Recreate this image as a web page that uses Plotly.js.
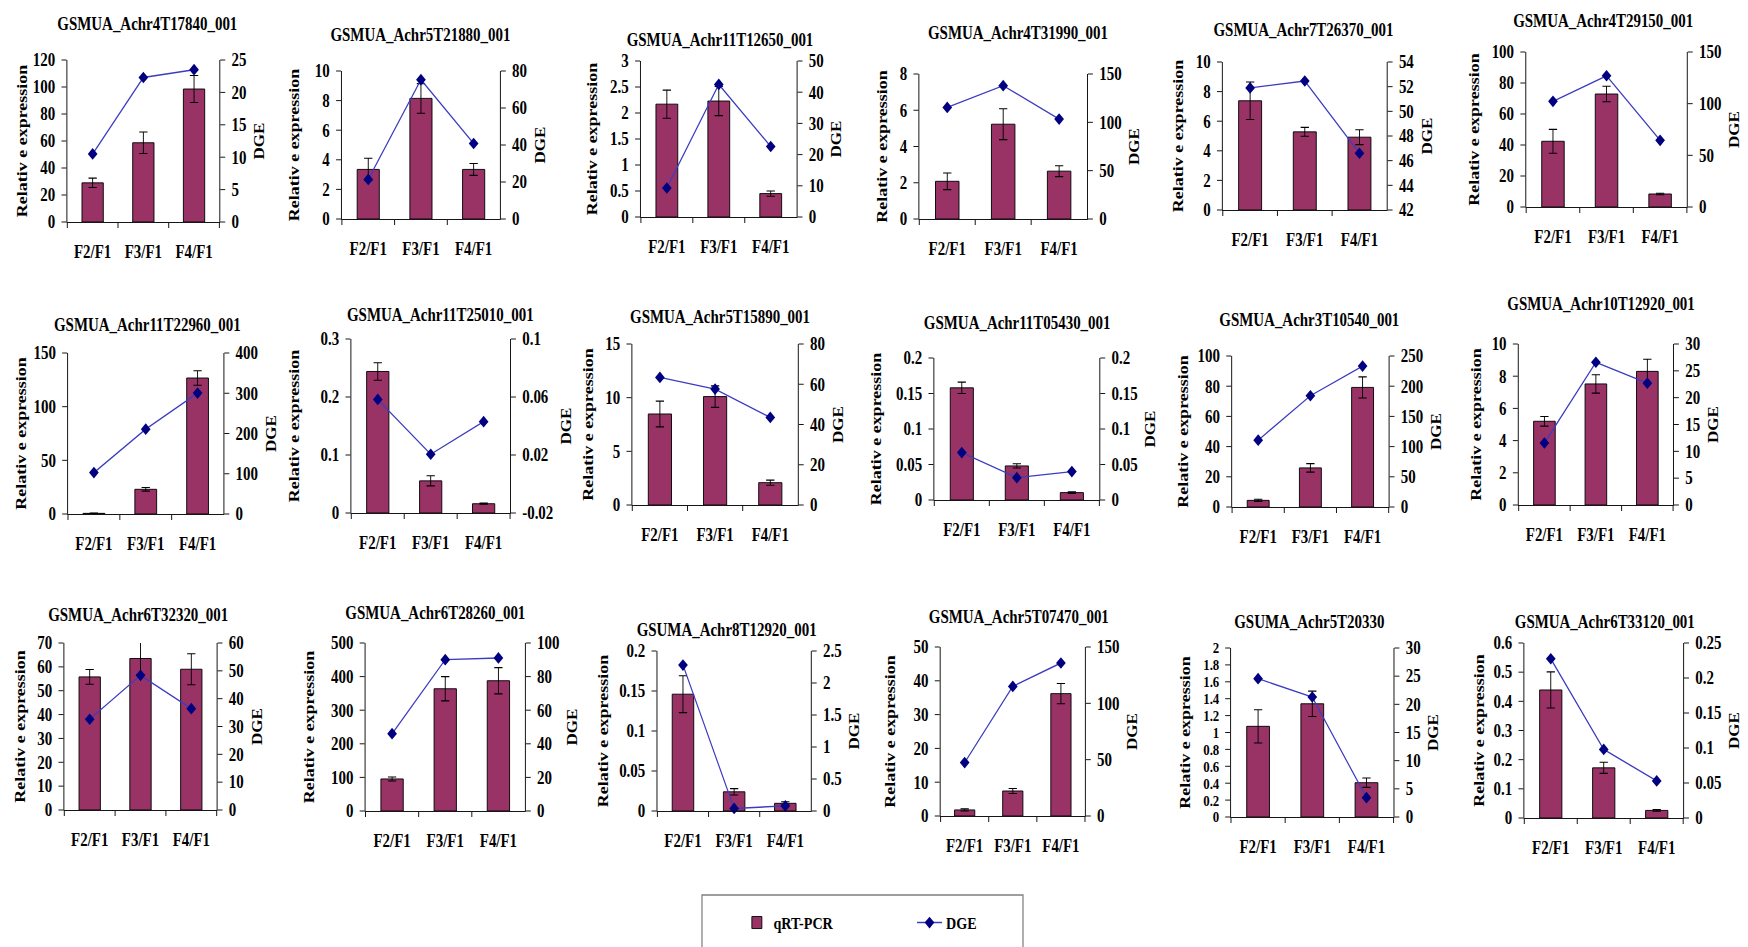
<!DOCTYPE html>
<html>
<head>
<meta charset="utf-8">
<script src="https://cdn.plot.ly/plotly-3.0.1.min.js"></script>
<style>
html,body{margin:0;padding:0;background:#fff;overflow:hidden;}
#wrap{width:1748px;height:947px;overflow:hidden;position:relative;background:#fff;}
#chart{width:2106px;height:947px;transform:scaleX(0.83);transform-origin:0 0;}
</style>
</head>
<body>
<div id="wrap"><div id="chart"></div></div>
<script>
// ---------------- DATA ----------------
const categories = ['F2/F1', 'F3/F1', 'F4/F1'];

const geneNames = [
  'GSMUA_Achr4T17840_001', 'GSMUA_Achr5T21880_001', 'GSMUA_Achr11T12650_001',
  'GSMUA_Achr4T31990_001', 'GSMUA_Achr7T26370_001', 'GSMUA_Achr4T29150_001',
  'GSMUA_Achr11T22960_001', 'GSMUA_Achr11T25010_001', 'GSMUA_Achr5T15890_001',
  'GSMUA_Achr11T05430_001', 'GSMUA_Achr3T10540_001', 'GSMUA_Achr10T12920_001',
  'GSMUA_Achr6T32320_001', 'GSMUA_Achr6T28260_001', 'GSUMA_Achr8T12920_001',
  'GSMUA_Achr5T07470_001', 'GSUMA_Achr5T20330', 'GSMUA_Achr6T33120_001'
];

// qRT-PCR relative expression (bars)
const qpcrValues = [
  [29, 58.7, 98.5],
  [3.35, 8.15, 3.35],
  [2.17, 2.23, 0.45],
  [2.08, 5.23, 2.64],
  [7.38, 5.28, 4.92],
  [42.4, 72.9, 8.4],
  [0.6, 23, 126.7],
  [0.244, 0.0554, 0.016],
  [8.48, 10.1, 2.08],
  [0.158, 0.048, 0.0104],
  [4.4, 25.9, 79.2],
  [5.2, 7.52, 8.3],
  [55.8, 63.5, 59],
  [95.4, 363.8, 387.7],
  [0.146, 0.024, 0.0096],
  [1.8, 7.4, 36.2],
  [1.073, 1.34, 0.406],
  [0.439, 0.172, 0.026]
];

// qRT-PCR error bars
const qpcrErrors = [
  [3.5, 8, 10],
  [0.75, 1.0, 0.4],
  [0.27, 0.28, 0.05],
  [0.46, 0.85, 0.3],
  [1.27, 0.3, 0.5],
  [7.7, 5, 0.5],
  [0.3, 1.7, 6.7],
  [0.015, 0.0087, 0.001],
  [1.2, 1.0, 0.24],
  [0.008, 0.003, 0.001],
  [0.7, 2.8, 7],
  [0.3, 0.57, 0.75],
  [3.1, 6.7, 6.5],
  [6, 36, 39],
  [0.023, 0.004, 0.002],
  [0.3, 0.75, 3],
  [0.197, 0.15, 0.055],
  [0.062, 0.019, 0.003]
];

// DGE values (line, right axis)
const dgeValues = [
  [10.5, 22.3, 23.5],
  [21.4, 75.3, 40.8],
  [9.3, 42.5, 22.6],
  [115.4, 137.9, 103.4],
  [51.9, 52.46, 46.6],
  [102.3, 127, 64.5],
  [102.9, 210.8, 300.4],
  [0.0583, 0.0205, 0.043],
  [63.4, 57.6, 43.5],
  [0.0668, 0.0315, 0.04],
  [110.6, 184.2, 233.4],
  [11.55, 26.6, 22.7],
  [32.6, 48.4, 36.4],
  [46, 90.1, 91.1],
  [2.28, 0.04, 0.08],
  [47.4, 115, 135.8],
  [24.56, 21.3, 3.43],
  [0.2275, 0.0979, 0.053]
];

// axis scales (tick range and step)
const leftAxisMax  = [120, 10, 3, 8, 10, 100, 150, 0.3, 15, 0.2, 100, 10, 70, 500, 0.2, 50, 2, 0.6];
const leftAxisStep = [20, 2, 0.5, 2, 2, 20, 50, 0.1, 5, 0.05, 20, 2, 10, 100, 0.05, 10, 0.2, 0.1];
const rightAxisMin  = [0, 0, 0, 0, 42, 0, 0, -0.02, 0, 0, 0, 0, 0, 0, 0, 0, 0, 0];
const rightAxisMax  = [25, 80, 50, 150, 54, 150, 400, 0.1, 80, 0.2, 250, 30, 60, 100, 2.5, 150, 30, 0.25];
const rightAxisStep = [5, 20, 10, 50, 2, 50, 100, 0.04, 20, 0.05, 50, 5, 10, 20, 0.5, 50, 5, 0.05];

const leftTitle = 'Relativ e expression';
const rightTitle = 'DGE';
const seriesNames = ['qRT-PCR', 'DGE'];

// ---------------- LAYOUT GEOMETRY (pixels in the final 1748x947 picture) ----------------
// [left, right, top, bottom, titleCenterX, titleCenterY, leftTitleStandoff]
const panelBoxes = [
  [67.3, 219.4, 60, 222, 147.6, 24, 1],
  [341.9, 500, 71, 219, 420.4, 35, 12.8],
  [640.9, 796.7, 61, 217, 720.1, 40, 10],
  [919.3, 1087.1, 74, 219, 1018, 33, 10],
  [1222.8, 1386.8, 62, 210, 1303.9, 30, 10],
  [1526.2, 1686.9, 52, 207, 1602.8, 21, 10],
  [68, 223.5, 353, 514, 147.6, 325, 3.4],
  [351.3, 510.1, 339, 513, 440.2, 315, 19.5],
  [632.3, 797.9, 344, 505, 720.1, 317, 8.8],
  [934.3, 1099.4, 358, 500, 1017.2, 323, 12.8],
  [1232.1, 1388.7, 356, 507, 1309.5, 320, 6],
  [1518.7, 1673.1, 344, 505, 1601, 304, 7.4],
  [64.3, 216.7, 643, 810, 138.3, 615, 8.8],
  [365.5, 525, 643, 811, 435.3, 613, 14.1],
  [657.4, 810.9, 651, 811, 726.9, 630, 7.4],
  [940.6, 1085, 647, 816, 1019, 617, 16.8],
  [1231, 1393.6, 648, 817, 1309.5, 622, 10],
  [1524.3, 1683.2, 643, 818, 1604.7, 622, 6]
];
// left tick label size per panel (dense 0.2-step axis needs a slightly smaller size)
const leftTickSize = [18, 18, 18, 18, 18, 18, 18, 18, 18, 18, 18, 18, 18, 18, 18, 18, 15.5, 18];

const FW = 1748, FH = 947, SX = 0.83;
const UW = Math.round(FW / SX);
const FONT = '"Liberation Serif", "Times New Roman", serif';
const BAR_COLOR = '#993366';
const LINE_COLOR = '#3c3cc0';
const MARKER_COLOR = '#000080';

function aid(n) { return n === 1 ? '' : String(n); }
function fmt(v) { return String(parseFloat(v.toFixed(6))); }
function ticks(min, max, step) {
  const vals = [], txt = [];
  const n = Math.round((max - min) / step);
  for (let k = 0; k <= n; k++) {
    const v = parseFloat((min + k * step).toFixed(6));
    vals.push(v); txt.push(fmt(v));
  }
  return {vals, txt};
}

const traces = [];
const layout = {
  width: UW,
  height: FH,
  margin: {l: 0, r: 0, t: 0, b: 0, pad: 0},
  paper_bgcolor: '#ffffff',
  plot_bgcolor: 'rgba(0,0,0,0)',
  bargap: 0.58,
  showlegend: true,
  font: {family: FONT, color: '#000', weight: 'bold'},
  annotations: [],
  shapes: [],
  legend: {
    orientation: 'h',
    x: 0.4235, xanchor: 'left',
    y: 1 - 923 / FH, yanchor: 'middle',
    font: {family: FONT, size: 17, color: '#000', weight: 'bold'},
    bgcolor: 'rgba(0,0,0,0)',
    borderwidth: 0,
    entrywidth: 163,
    entrywidthmode: 'pixels',
    traceorder: 'normal'
  }
};

const tickFont = {family: FONT, size: 18, color: '#000', weight: 'bold'};

for (let i = 0; i < geneNames.length; i++) {
  const n = i + 1;
  const yl = 2 * n - 1, yr = 2 * n;
  const box = panelBoxes[i];

  traces.push({
    type: 'bar', x: categories, y: qpcrValues[i],
    xaxis: 'x' + aid(n), yaxis: 'y' + aid(yl),
    name: seriesNames[0], legendgroup: 'q', showlegend: i === 0,
    marker: {color: BAR_COLOR, line: {color: '#000', width: 1}},
    error_y: {type: 'data', array: qpcrErrors[i], visible: true, color: '#000', thickness: 1.1, width: 5},
    hoverinfo: 'skip'
  });
  traces.push({
    type: 'scatter', mode: 'lines+markers', x: categories, y: dgeValues[i],
    xaxis: 'x' + aid(n), yaxis: 'y' + aid(yr),
    name: seriesNames[1], legendgroup: 'd', showlegend: i === 0,
    line: {color: LINE_COLOR, width: 1.4},
    marker: {symbol: 'diamond', size: 9, color: MARKER_COLOR},
    cliponaxis: false,
    hoverinfo: 'skip'
  });

  layout['xaxis' + aid(n)] = {
    domain: [box[0] / FW, box[1] / FW],
    anchor: 'y' + aid(yl),
    type: 'category',
    showline: true, linecolor: '#000', linewidth: 1,
    ticks: 'outside', tickson: 'boundaries', ticklen: 5, tickcolor: '#000', tickwidth: 1,
    tickfont: tickFont,
    ticklabelstandoff: 13,
    showgrid: false, zeroline: false, fixedrange: true
  };

  const lt = ticks(0, leftAxisMax[i], leftAxisStep[i]);
  layout['yaxis' + aid(yl)] = {
    domain: [1 - box[3] / FH, 1 - box[2] / FH],
    anchor: 'x' + aid(n),
    range: [0, leftAxisMax[i]],
    tickmode: 'array', tickvals: lt.vals, ticktext: lt.txt,
    showline: true, linecolor: '#000', linewidth: 1,
    ticks: 'outside', ticklen: 6, tickcolor: '#000', tickwidth: 1,
    tickfont: Object.assign({}, tickFont, {size: leftTickSize[i]}),
    ticklabelstandoff: 4,
    showgrid: false, zeroline: false, fixedrange: true,
    title: {text: leftTitle, font: {family: FONT, size: 18, color: '#000', weight: 'bold'}, standoff: box[6]}
  };

  const rt = ticks(rightAxisMin[i], rightAxisMax[i], rightAxisStep[i]);
  layout['yaxis' + aid(yr)] = {
    overlaying: 'y' + aid(yl),
    side: 'right',
    anchor: 'x' + aid(n),
    range: [rightAxisMin[i], rightAxisMax[i]],
    tickmode: 'array', tickvals: rt.vals, ticktext: rt.txt,
    showline: true, linecolor: '#000', linewidth: 1,
    ticks: 'outside', ticklen: 6, tickcolor: '#000', tickwidth: 1,
    tickfont: tickFont,
    ticklabelstandoff: 4,
    showgrid: false, zeroline: false, fixedrange: true,
    title: {text: rightTitle, font: {family: FONT, size: 17, color: '#000', weight: 'bold'}, standoff: 10}
  };

  layout.annotations.push({
    xref: 'paper', yref: 'paper',
    x: box[4] / FW, y: 1 - box[5] / FH,
    xanchor: 'center', yanchor: 'middle',
    text: geneNames[i], showarrow: false,
    font: {family: FONT, size: 18, color: '#000', weight: 'bold'}
  });
}

// legend frame (runs off the bottom edge as in the reference)
layout.shapes.push({
  type: 'rect', xref: 'paper', yref: 'paper',
  x0: 702 / FW, x1: 1023 / FW, y0: -0.2, y1: 1 - 895 / FH,
  line: {color: '#7f7f7f', width: 1.5}, fillcolor: 'rgba(0,0,0,0)', layer: 'below'
});

Plotly.newPlot('chart', traces, layout, {staticPlot: true, displayModeBar: false});
</script>
</body>
</html>
